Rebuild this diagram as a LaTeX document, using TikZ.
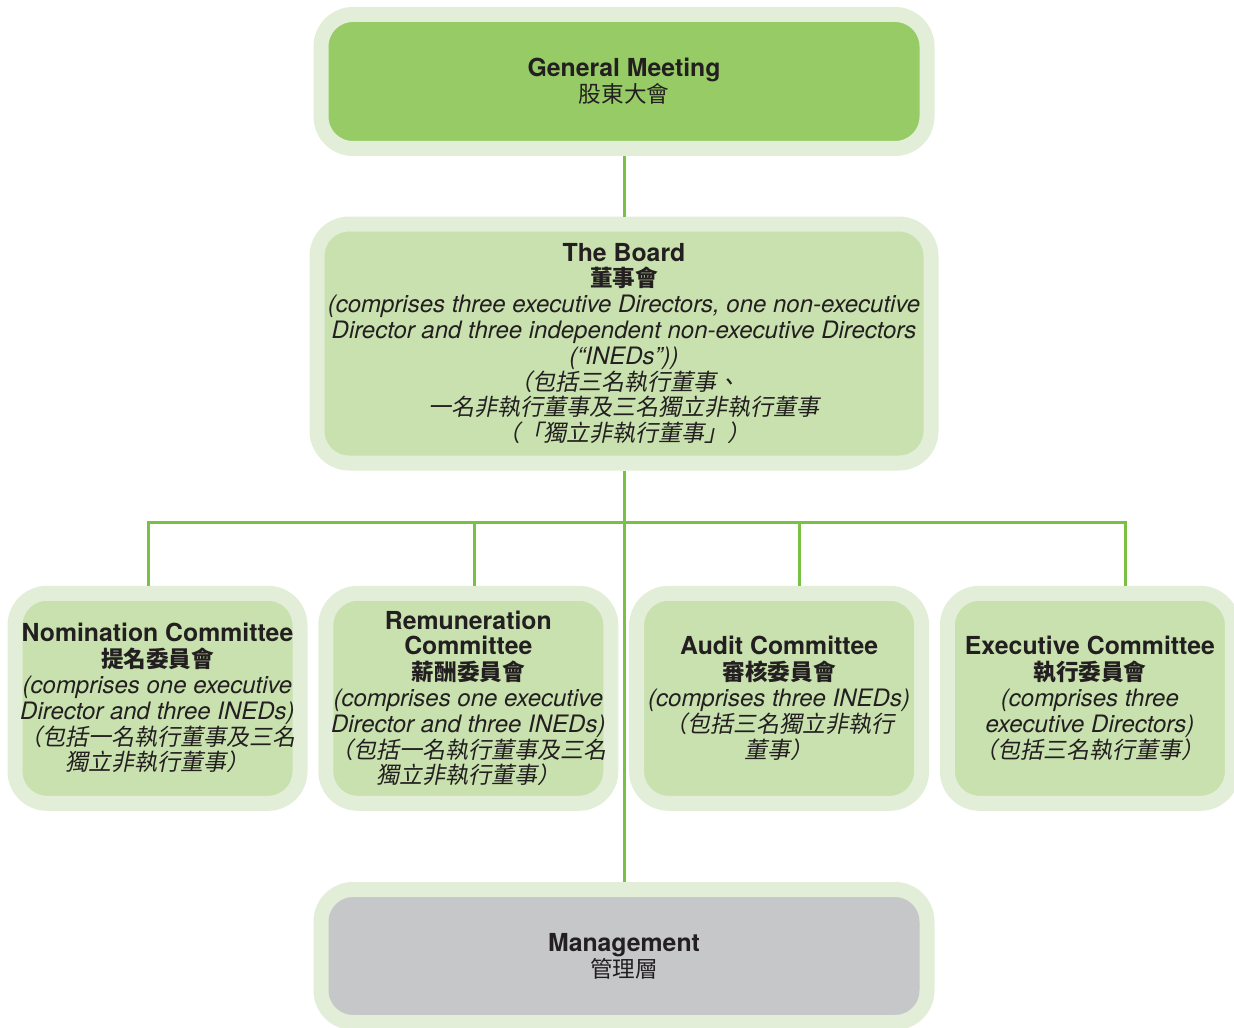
\documentclass[tikz,border=0pt]{standalone}
\usepackage{fontspec}
\setmainfont{TeX Gyre Heros}
\newfontfamily\cjk{Noto Sans CJK TC}
\newfontfamily\cjksl[FakeSlant=0.2]{Noto Sans CJK TC}
\usepackage{xcolor}
\definecolor{gmgreen}{HTML}{96CB65}
\definecolor{boxgreen}{HTML}{C8E1AE}
\definecolor{mgmtgray}{HTML}{C6C7C9}
\definecolor{framegreen}{HTML}{E2EED7}
\definecolor{linkgreen}{HTML}{7AC143}
\definecolor{inktext}{HTML}{231F20}
\usepackage{tikz}

\newcommand\headtxt[1]{{\fontsize{12.4}{12.9}\selectfont\bfseries #1}}
\newcommand\zhhead[1]{{\cjk\bfseries\fontsize{11.3}{12.9}\selectfont #1}}
\newcommand\zhplain[1]{{\cjk\fontsize{11.3}{12.9}\selectfont #1}}
\newcommand\notetxt[1]{{\itshape #1}}
\newcommand\zhnote[1]{{\cjksl\fontsize{11.5}{12.9}\selectfont #1}}

\begin{document}
\begin{tikzpicture}[
    x=0.5pt, y=-0.5pt,
    panel/.style={rectangle, rounded corners=16pt, draw=framegreen,
                  line width=7.5pt, inner sep=0pt, align=center,
                  text=inktext, font=\fontsize{12}{12.9}\selectfont},
    topbox/.style={panel, fill=gmgreen,
                   minimum width=303pt, minimum height=67pt},
    boardbox/.style={panel, fill=boxgreen,
                     minimum width=307pt, minimum height=119.5pt},
    combox/.style={panel, fill=boxgreen,
                   minimum width=142.5pt, minimum height=105pt},
    mgmtbox/.style={panel, fill=mgmtgray,
                    minimum width=303pt, minimum height=66.5pt},
    link/.style={draw=linkgreen, line width=1.5pt}
  ]
  \useasboundingbox (0,0) rectangle (1234,1027);

  %% Top and board
  \node[topbox] (gm) at (624,81.5)
    {\headtxt{General Meeting}\\ \zhplain{股東大會}};

  \node[boardbox] (board) at (624,343.5)
    {\headtxt{The Board}\\
     \zhhead{董事會}\\
     \notetxt{(comprises three executive Directors, one non-executive}\\
     \notetxt{Director and three independent non-executive Directors}\\
     \notetxt{(“INEDs”))}\\
     \zhnote{（包括三名執行董事、}\\
     \zhnote{一名非執行董事及三名獨立非執行董事}\\
     \zhnote{（「獨立非執行董事」）}};

  %% Committees
  \node[combox] (nom) at (157.5,698.3)
    {\headtxt{Nomination Committee}\\
     \zhhead{提名委員會}\\
     \notetxt{(comprises one executive}\\
     \notetxt{Director and three INEDs)}\\
     \zhnote{（包括一名執行董事及三名}\\
     \zhnote{獨立非執行董事）}};
  \node[combox] (rem) at (468.3,698.3)
    {\headtxt{Remuneration}\\
     \headtxt{Committee}\\
     \zhhead{薪酬委員會}\\
     \notetxt{(comprises one executive}\\
     \notetxt{Director and three INEDs)}\\
     \zhnote{（包括一名執行董事及三名}\\
     \zhnote{獨立非執行董事）}};
  \node[combox] (aud) at (779.1,698.3)
    {\headtxt{Audit Committee}\\
     \zhhead{審核委員會}\\
     \notetxt{(comprises three INEDs)}\\
     \zhnote{（包括三名獨立非執行}\\
     \zhnote{董事）}};
  \node[combox] (exe) at (1089.9,698.3)
    {\headtxt{Executive Committee}\\
     \zhhead{執行委員會}\\
     \notetxt{(comprises three}\\
     \notetxt{executive Directors)}\\
     \zhnote{（包括三名執行董事）}};

  %% Management
  \node[mgmtbox] (mgmt) at (624,956)
    {\headtxt{Management}\\ \zhplain{管理層}};

  %% Connectors
  \coordinate (bus1) at (148,522.5);
  \coordinate (bus2) at (474.5,522.5);
  \coordinate (bus3) at (799,522.5);
  \coordinate (bus4) at (1125,522.5);

  \draw[link] (gm) -- (board);
  \draw[link] (board) -- (mgmt);
  \draw[link] (nom.north -| bus1) -- (bus1) -- (bus4) -- (exe.north -| bus4);
  \draw[link] (bus2) -- (rem.north -| bus2);
  \draw[link] (bus3) -- (aud.north -| bus3);

\end{tikzpicture}
\end{document}
